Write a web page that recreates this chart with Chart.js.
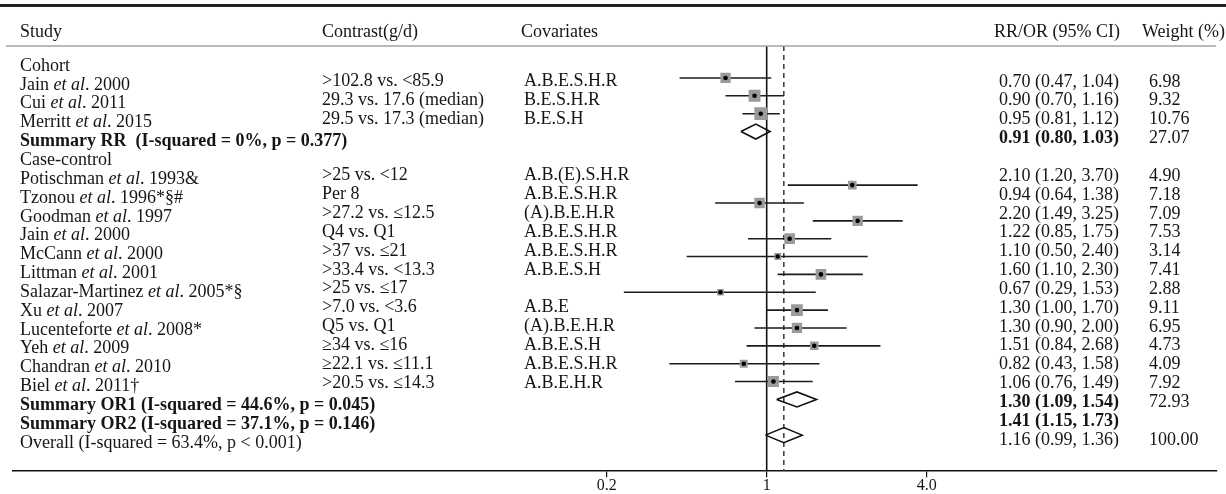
<!DOCTYPE html>
<html lang="en">
<head>
  <meta charset="UTF-8" />
  <title>Forest plot: RR/OR by study</title>
  <script src="https://cdn.jsdelivr.net/npm/chart.js"></script>
  <style>
    html, body { margin: 0; padding: 0; background: #fff; }
    #wrap { width: 1226px; height: 494px; position: relative; }
  </style>
</head>
<body>
  <div id="wrap"><canvas id="forest"></canvas></div>

  <script>
    // cohort studies
    const cohortAuthors = ['Jain', 'Cui', 'Merritt'];
    const cohortTags = ['2000', '2011', '2015'];
    const cohortContrast = ['>102.8 vs. <85.9', '29.3 vs. 17.6 (median)', '29.5 vs. 17.3 (median)'];
    const cohortCovariates = ['A.B.E.S.H.R', 'B.E.S.H.R', 'B.E.S.H'];
    const cohortRR = [0.70, 0.90, 0.95];
    const cohortLow = [0.47, 0.70, 0.81];
    const cohortHigh = [1.04, 1.16, 1.12];
    const cohortWeight = [6.98, 9.32, 10.76];

    // case-control studies
    const ccAuthors = ['Potischman', 'Tzonou', 'Goodman', 'Jain', 'McCann', 'Littman', 'Salazar-Martinez', 'Xu', 'Lucenteforte', 'Yeh', 'Chandran', 'Biel'];
    const ccTags = ['1993&', '1996*§#', '1997', '2000', '2000', '2001', '2005*§', '2007', '2008*', '2009', '2010', '2011†'];
    const ccContrast = ['>25 vs. <12', 'Per 8', '>27.2 vs. ≤12.5', 'Q4 vs. Q1', '>37 vs. ≤21', '>33.4 vs. <13.3', '>25 vs. ≤17', '>7.0 vs. <3.6', 'Q5 vs. Q1', '≥34 vs. ≤16', '≥22.1 vs. ≤11.1', '>20.5 vs. ≤14.3'];
    const ccCovariates = ['A.B.(E).S.H.R', 'A.B.E.S.H.R', '(A).B.E.H.R', 'A.B.E.S.H.R', 'A.B.E.S.H.R', 'A.B.E.S.H', '', 'A.B.E', '(A).B.E.H.R', 'A.B.E.S.H', 'A.B.E.S.H.R', 'A.B.E.H.R'];
    const ccOR = [2.10, 0.94, 2.20, 1.22, 1.10, 1.60, 0.67, 1.30, 1.30, 1.51, 0.82, 1.06];
    const ccLow = [1.20, 0.64, 1.49, 0.85, 0.50, 1.10, 0.29, 1.00, 0.90, 0.84, 0.43, 0.76];
    const ccHigh = [3.70, 1.38, 3.25, 1.75, 2.40, 2.30, 1.53, 1.70, 2.00, 2.68, 1.58, 1.49];
    const ccWeight = [4.90, 7.18, 7.09, 7.53, 3.14, 7.41, 2.88, 9.11, 6.95, 4.73, 4.09, 7.92];

    // pooled estimates: RR, OR1, OR2, overall
    const summaryLabels = ['Summary RR  (I-squared = 0%, p = 0.377)', 'Summary OR1 (I-squared = 44.6%, p = 0.045)', 'Summary OR2 (I-squared = 37.1%, p = 0.146)', 'Overall (I-squared = 63.4%, p < 0.001)'];
    const summaryEst = [0.91, 1.30, 1.41, 1.16];
    const summaryLow = [0.80, 1.09, 1.15, 0.99];
    const summaryHigh = [1.03, 1.54, 1.73, 1.36];
    const summaryWeight = [27.07, 72.93, null, 100.00];
    const summaryBold = [true, true, true, false];
    const summaryDiamond = [true, true, false, true];

    const headers = ['Study', 'Contrast(g/d)', 'Covariates', 'RR/OR (95% CI)', 'Weight (%)'];
    const tickValues = [0.25, 1, 4];
    const tickLabels = ['0.2', '1', '4.0'];

    const serif = '"Liberation Serif", "Times New Roman", serif';
    const ink = '#151515';

    // plot rows: cohort, summary RR, two blank rows, case-control, OR1, OR2, overall
    const cohortRows = cohortRR.map((_, i) => i);
    const ccStart = cohortRows.length + 3;
    const ccRows = ccOR.map((_, i) => ccStart + i);
    const ccEnd = ccStart + ccOR.length;
    const summaryRows = [cohortRows.length, ccEnd, ccEnd + 1, ccEnd + 2];
    const yMin = -1.79, yMax = 22.02;

    const studyEst = cohortRR.concat(ccOR);
    const studyLow = cohortLow.concat(ccLow);
    const studyHigh = cohortHigh.concat(ccHigh);
    const studyWeight = cohortWeight.concat(ccWeight);
    const studyRows = cohortRows.concat(ccRows);

    const ciPoints = [];
    studyEst.forEach((_, i) => {
      ciPoints.push({ x: studyLow[i], y: studyRows[i] }, { x: studyHigh[i], y: studyRows[i] }, { x: null, y: null });
    });
    const estPoints = studyEst.map((v, i) => ({ x: v, y: studyRows[i] }));

    const dh = 0.42;
    const diamondPoints = [];
    summaryEst.forEach((v, i) => {
      if (!summaryDiamond[i]) return;
      const r = summaryRows[i];
      diamondPoints.push(
        { x: summaryLow[i], y: r }, { x: v, y: r - dh }, { x: summaryHigh[i], y: r },
        { x: v, y: r + dh }, { x: summaryLow[i], y: r }, { x: null, y: null }
      );
    });
    const overall = summaryEst[summaryEst.length - 1];

    // table text rows
    const ciText = (e, l, h) => `${e.toFixed(2)} (${l.toFixed(2)}, ${h.toFixed(2)})`;
    const studyParts = (a, t) => [{ t: a + ' ' }, { t: 'et al', i: true }, { t: '. ' + t }];
    const lines = [];
    lines.push({ study: [{ t: 'Cohort' }] });
    cohortAuthors.forEach((a, i) => lines.push({
      study: studyParts(a, cohortTags[i]), contrast: cohortContrast[i], cov: cohortCovariates[i],
      ci: ciText(cohortRR[i], cohortLow[i], cohortHigh[i]), w: cohortWeight[i].toFixed(2)
    }));
    const summaryLine = i => ({
      study: [{ t: summaryLabels[i] }], bold: summaryBold[i],
      ci: ciText(summaryEst[i], summaryLow[i], summaryHigh[i]),
      w: summaryWeight[i] === null ? '' : summaryWeight[i].toFixed(2)
    });
    lines.push(summaryLine(0));
    lines.push({ study: [{ t: 'Case-control' }] });
    ccAuthors.forEach((a, i) => lines.push({
      study: studyParts(a, ccTags[i]), contrast: ccContrast[i], cov: ccCovariates[i],
      ci: ciText(ccOR[i], ccLow[i], ccHigh[i]), w: ccWeight[i].toFixed(2)
    }));
    lines.push(summaryLine(1), summaryLine(2), summaryLine(3));

    function drawParts(ctx, parts, x, y, bold) {
      let cx = x;
      parts.forEach(p => {
        ctx.font = (p.i ? 'italic ' : '') + (bold ? 'bold ' : '') + '18px ' + serif;
        ctx.fillText(p.t, cx, y);
        cx += ctx.measureText(p.t).width;
      });
    }

    const tablePlugin = {
      id: 'forestTable',
      afterDraw(chart) {
        const ctx = chart.ctx;
        const area = chart.chartArea;
        ctx.save();
        ctx.strokeStyle = '#222';
        ctx.lineWidth = 3;
        ctx.beginPath(); ctx.moveTo(0, 5.5); ctx.lineTo(chart.width, 5.5); ctx.stroke();
        ctx.strokeStyle = '#a3a3a3';
        ctx.lineWidth = 1.5;
        ctx.beginPath(); ctx.moveTo(6, area.top); ctx.lineTo(1216, area.top); ctx.stroke();

        ctx.fillStyle = ink;
        ctx.textBaseline = 'middle';
        const colX = [20, 322, 521, 994, 1142];
        headers.forEach((h, i) => drawParts(ctx, [{ t: h }], colX[i], 32, false));

        lines.forEach((ln, i) => {
          const y = 66 + 18.85 * i;
          drawParts(ctx, ln.study, 20, y, ln.bold);
          if (ln.contrast) drawParts(ctx, [{ t: ln.contrast }], 322, y - 3.5, false);
          if (ln.cov) drawParts(ctx, [{ t: ln.cov }], 524, y - 3.5, false);
          if (ln.ci) drawParts(ctx, [{ t: ln.ci }], 999, y - 3, ln.bold);
          if (ln.w) drawParts(ctx, [{ t: ln.w }], 1149, y - 3, false);
        });
        ctx.restore();
      }
    };

    new Chart(document.getElementById('forest'), {
      type: 'scatter',
      data: {
        datasets: [
          {
            label: 'Null',
            data: [{ x: 1, y: yMin }, { x: 1, y: yMax }],
            showLine: true, borderColor: '#111', borderWidth: 1.6, pointRadius: 0, order: 6
          },
          {
            label: 'Overall',
            data: [{ x: overall, y: yMin }, { x: overall, y: yMax }],
            showLine: true, borderColor: '#444', borderWidth: 1.6, borderDash: [5, 4], pointRadius: 0, order: 5
          },
          {
            label: '95% CI',
            data: ciPoints,
            showLine: true, spanGaps: false, borderColor: '#1c1c1c', borderWidth: 1.6, pointRadius: 0, order: 4
          },
          {
            label: 'Weight',
            data: estPoints,
            pointStyle: 'rect',
            pointRadius: c => 3.9 * Math.sqrt(studyWeight[c.dataIndex]) / Math.SQRT2,
            backgroundColor: '#9a9a9a', borderWidth: 0, order: 3
          },
          {
            label: 'Estimate',
            data: estPoints,
            pointRadius: 2.3, backgroundColor: '#000', borderWidth: 0, order: 2
          },
          {
            label: 'Pooled',
            data: diamondPoints,
            showLine: true, spanGaps: false, borderColor: '#111', borderWidth: 1.6, tension: 0, pointRadius: 0, order: 1
          }
        ]
      },
      options: {
        responsive: true,
        maintainAspectRatio: false,
        animation: false,
        events: [],
        layout: { padding: { left: 13, right: 9, top: 46, bottom: 0 } },
        plugins: { legend: { display: false }, tooltip: { enabled: false } },
        scales: {
          x: {
            type: 'logarithmic',
            min: 0.001457,
            max: 49.5,
            bounds: 'data',
            border: { display: true, color: '#111', width: 1.5 },
            grid: { display: true, drawOnChartArea: false, drawTicks: true, tickLength: 6, color: '#111', lineWidth: 1.2 },
            afterBuildTicks: s => { s.ticks = tickValues.map(v => ({ value: v })); },
            ticks: {
              autoSkip: false, maxRotation: 0, minRotation: 0, padding: 0,
              color: ink,
              font: { family: serif, size: 16, lineHeight: 1.05 },
              callback: (v, i) => tickLabels[i]
            }
          },
          y: {
            type: 'linear',
            min: yMin,
            max: yMax,
            reverse: true,
            display: false
          }
        }
      },
      plugins: [tablePlugin]
    });
  </script>
</body>
</html>
